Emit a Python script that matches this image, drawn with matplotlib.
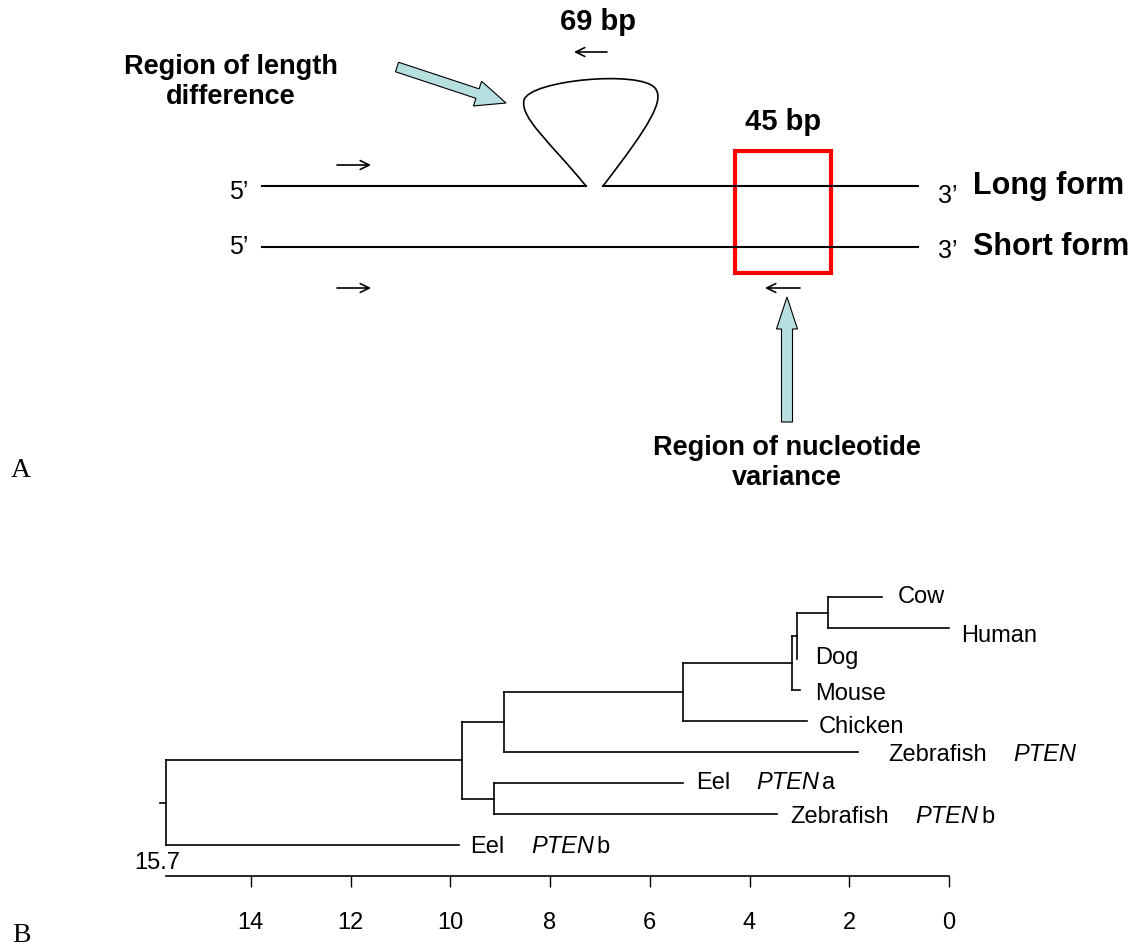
import matplotlib
matplotlib.use("Agg")
import matplotlib.pyplot as plt
from matplotlib.patches import Rectangle, FancyArrow, PathPatch
from matplotlib.path import Path

plt.rcParams['font.family'] = ['Liberation Sans', 'DejaVu Sans']

# --- panel B tree data (distance units, tips listed top to bottom) ---
tip_names = ["Cow", "Human", "Dog", "Mouse", "Chicken", "Zebrafish", "Eel", "Zebrafish", "Eel"]
tip_gene = ["", "", "", "", "", "PTEN", "PTEN", "PTEN", "PTEN"]
tip_suffix = ["", "", "", "", "", "", "a", "b", "b"]
tip_depth = [1.34, 0.0, 3.05, 2.98, 2.84, 1.82, 5.34, 3.44, 9.82]

# internal nodes, children are tip indices or node names
node_names = ["n1", "n2", "n3", "n4", "n5", "n6", "n7", "root"]
node_children = [(0, 1), ("n1", 2), ("n2", 3), ("n3", 4), ("n4", 5),
                 (6, 7), ("n5", "n6"), ("n7", 8)]
node_depth = [2.42, 3.05, 3.14, 5.34, 8.92, 9.12, 9.77, 15.7]
root_label = "15.7"
axis_ticks = [14, 12, 10, 8, 6, 4, 2, 0]

# --- panel A texts ---
loop_label = "69 bp"
box_label = "45 bp"
form_labels = ["Long form", "Short form"]
note_length = "Region of length\ndifference"
note_variance = "Region of nucleotide\nvariance"

W, H = 1135, 947
fig = plt.figure(figsize=(W / 100, H / 100), dpi=100)
ax = fig.add_axes([0, 0, 1, 1])
ax.set_xlim(0, W)
ax.set_ylim(H, 0)
ax.axis('off')

# ---------------- panel A (drawn in pixel space) ----------------
y_long, y_short = 186, 247
x0, x1 = 262, 918
lw_main = 1.5
ax.plot([x0, 586], [y_long, y_long], color='black', lw=lw_main)
ax.plot([603, x1], [y_long, y_long], color='black', lw=lw_main)
ax.plot([x0, x1], [y_short, y_short], color='black', lw=lw_main)

# the 69 bp loop
verts = [(586, 186),
         (550, 142), (520, 118), (524, 100),
         (530, 80), (640, 70), (655, 88),
         (665, 100), (650, 125), (603, 186)]
codes = [Path.MOVETO] + [Path.CURVE4] * 9
ax.add_patch(PathPatch(Path(verts, codes), fc='none', ec='black', lw=1.2))

# red box
ax.add_patch(Rectangle((735, 151), 96, 122, fill=False, ec='#ff0000', lw=3))

# primer arrows
def primer(xa, xb, y):
    ax.annotate('', xy=(xb, y), xytext=(xa, y),
                arrowprops=dict(arrowstyle='->', lw=1.2, color='black',
                                mutation_scale=16, shrinkA=0, shrinkB=0))

primer(337, 371, 165)
primer(337, 371, 288)
primer(607, 574, 52)
primer(800, 765, 288)

# light blue block arrows
blue = '#b7dfe0'
ax.add_patch(FancyArrow(397, 67, 109, 36, width=10, head_width=26, head_length=30,
                        length_includes_head=True, fc=blue, ec='black', lw=0.8))
ax.add_patch(FancyArrow(787, 422, 0, -125, width=11, head_width=21, head_length=32,
                        length_includes_head=True, fc=blue, ec='black', lw=0.8))

bold = dict(fontweight='bold', color='black')
ax.text(598, 22, loop_label, ha='center', va='center', fontsize=21, **bold)
ax.text(783, 122, box_label, ha='center', va='center', fontsize=21, **bold)
ax.text(973, y_long, form_labels[0], ha='left', va='center', fontsize=22, **bold)
ax.text(973, y_short, form_labels[1], ha='left', va='center', fontsize=22, **bold)
ax.text(231, 82, note_length, ha='center', va='center', fontsize=19.5,
        multialignment='center', **bold)
ax.text(787, 463, note_variance, ha='center', va='center', fontsize=19.5,
        multialignment='center', **bold)

for yy in (y_long + 6, y_short):
    ax.text(239, yy, "5\u2019", ha='center', va='center', fontsize=18)
    ax.text(948, yy + 4, "3\u2019", ha='center', va='center', fontsize=18)

ax.text(21, 470, "A", ha='center', va='center', fontsize=20, family='Liberation Serif')
ax.text(21, 935, "B", ha='center', va='center', fontsize=20, family='Liberation Serif')

# ---------------- panel B tree ----------------
tx = fig.add_axes([166 / W, 1 - 876 / H, 783 / W, 279 / H])
tx.patch.set_visible(False)
tx.set_xlim(node_depth[-1], 0)
tx.set_ylim(9, 0)

ypos = {i: float(i) for i in range(len(tip_names))}
xpos = {i: d for i, d in enumerate(tip_depth)}
for name, kids, d in zip(node_names, node_children, node_depth):
    ypos[name] = sum(ypos[k] for k in kids) / len(kids)
    xpos[name] = d

lw_tree = 1.2
for name, kids, d in zip(node_names, node_children, node_depth):
    ys = [ypos[k] for k in kids]
    tx.plot([d, d], [min(ys), max(ys)], color='black', lw=lw_tree, clip_on=False)
    for k in kids:
        tx.plot([d, xpos[k]], [ypos[k], ypos[k]], color='black', lw=lw_tree, clip_on=False)
# root stub
tx.plot([node_depth[-1] + 0.12, node_depth[-1]], [ypos["root"]] * 2,
        color='black', lw=lw_tree, clip_on=False)

# label nudges (pixels right, pixels down)
nudge = [(16, 0), (12, 8), (18, -1), (15, 4), (11, 6), (30, 3), (13, 0), (13, 3), (11, 2)]
for i, nm in enumerate(tip_names):
    dx, dy = nudge[i]
    t = tx.annotate(nm, xy=(tip_depth[i], i), xytext=(dx * 0.72, -dy * 0.72),
                    textcoords='offset points', ha='left', va='center',
                    fontsize=17, annotation_clip=False)
    if tip_gene[i]:
        g = tx.annotate(tip_gene[i], xy=(1, 0), xycoords=t, xytext=(19, 0),
                        textcoords='offset points', ha='left', va='bottom',
                        fontsize=17, style='italic')
        if tip_suffix[i]:
            tx.annotate(tip_suffix[i], xy=(1, 0), xycoords=g, xytext=(2, 0),
                        textcoords='offset points', ha='left', va='bottom',
                        fontsize=17)

for s in ['top', 'right', 'left']:
    tx.spines[s].set_visible(False)
tx.spines['bottom'].set_linewidth(1.2)
tx.set_yticks([])
tx.set_xticks(axis_ticks)
tx.set_xticklabels([str(v) for v in axis_ticks])
tx.tick_params(axis='x', direction='out', length=8, width=1, labelsize=17, pad=18)
tx.annotate(root_label, xy=(node_depth[-1], 9), xytext=(-6, 5),
            textcoords='offset points', ha='center', va='baseline',
            fontsize=17, annotation_clip=False)

fig.savefig("out.png", dpi=100)
